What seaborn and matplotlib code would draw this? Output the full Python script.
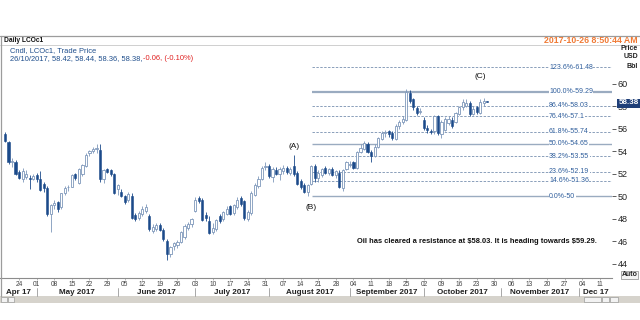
import matplotlib
matplotlib.use("Agg")
import matplotlib.pyplot as plt
import matplotlib.transforms as mtransforms
from matplotlib.patches import Rectangle
from matplotlib.lines import Line2D
import numpy as np
import pandas as pd
import seaborn as sns

# ---------------- data ----------------
start_date = "2017-04-18"
end_date = "2017-10-26"
axis_end_date = "2017-12-29"

opens = [
    55.5, 54.8, 53.0, 53.05, 52.15, 51.5, 51.7, 51.65, 51.55, 51.9,
    51.5, 51.05, 50.7, 48.4, 49.2, 49.5, 49.0, 50.3, 50.8, 50.85,
    51.95, 51.2, 51.95, 52.7, 53.8, 54.0, 54.2, 54.15, 51.5, 52.4,
    52.3, 51.95, 50.6, 50.35, 50.0, 49.7, 50.05, 48.3, 48.1, 48.4,
    48.7, 48.25, 46.95, 47.1, 47.4, 47.0, 46.0, 44.9, 45.6, 45.65,
    45.9, 46.35, 47.2, 47.5, 48.7, 49.8, 49.7, 48.3, 47.8, 46.85,
    47.1, 48.2, 47.95, 48.4, 49.1, 48.5, 49.0, 49.8, 49.6, 48.0,
    48.5, 50.1, 50.9, 51.5, 52.6, 52.7, 51.7, 52.3, 52.0, 52.2,
    52.5, 52.1, 52.7, 52.1, 51.35, 51.0, 50.4, 51.1, 52.7, 51.6,
    51.9, 52.5, 52.1, 52.4, 51.9, 52.1, 50.7, 52.4, 52.8, 53.0,
    52.5, 53.9, 54.2, 54.65, 53.9, 53.6, 54.4, 55.1, 55.6, 55.8,
    55.6, 55.1, 56.2, 56.6, 56.8, 59.2, 58.6, 57.8, 57.5, 56.8,
    56.1, 55.8, 55.8, 57.1, 55.5, 55.9, 56.5, 56.8, 56.6, 57.3,
    57.9, 58.0, 58.3, 57.3, 57.9, 57.4, 58.3, 58.42]
highs = [
    55.7, 54.95, 53.4, 53.2, 52.3, 52.5, 52.3, 51.9, 52.0, 52.1,
    52.2, 51.3, 50.9, 49.3, 49.7, 49.6, 50.3, 50.9, 51.0, 52.0,
    52.1, 52.5, 52.9, 53.8, 54.1, 54.4, 54.6, 54.65, 52.4, 52.5,
    52.4, 52.1, 51.1, 50.6, 50.1, 50.4, 50.3, 48.5, 48.7, 49.1,
    49.3, 48.4, 47.5, 47.6, 47.6, 47.2, 46.2, 45.6, 45.9, 46.1,
    46.9, 47.5, 47.7, 48.1, 49.9, 50.0, 49.8, 48.6, 48.2, 47.6,
    48.0, 48.4, 48.7, 49.1, 49.2, 49.3, 49.9, 50.0, 49.7, 48.8,
    50.5, 51.2, 51.8, 52.7, 53.0, 52.9, 52.6, 52.6, 52.6, 52.8,
    52.7, 52.6, 53.65, 52.2, 51.5, 51.2, 51.1, 52.8, 52.9, 52.3,
    52.5, 52.7, 52.5, 52.6, 52.3, 52.3, 52.4, 53.1, 53.1, 53.1,
    54.0, 54.6, 54.9, 54.8, 54.1, 54.6, 55.3, 55.8, 55.9, 55.9,
    55.8, 56.4, 56.8, 57.1, 59.5, 59.4, 58.7, 58.0, 57.8, 57.0,
    56.3, 56.0, 57.2, 57.2, 56.8, 57.0, 57.1, 57.0, 57.5, 58.0,
    58.6, 58.6, 58.5, 58.0, 58.0, 58.6, 58.7, 58.44]
lows = [
    54.8, 52.9, 52.6, 51.9, 51.5, 51.3, 51.5, 50.6, 51.4, 51.3,
    50.5, 50.4, 48.2, 46.8, 48.9, 48.6, 48.9, 50.1, 50.5, 50.8,
    51.4, 51.1, 51.8, 52.6, 53.6, 53.8, 53.8, 51.3, 51.2, 52.1,
    51.8, 50.2, 50.1, 49.9, 49.3, 49.5, 48.0, 47.8, 47.9, 48.2,
    48.5, 46.9, 46.7, 46.9, 46.9, 46.0, 44.35, 44.6, 45.2, 45.4,
    45.8, 46.2, 47.0, 47.3, 48.6, 49.4, 47.8, 47.8, 46.6, 46.6,
    46.9, 47.6, 47.8, 48.3, 48.3, 48.3, 48.9, 49.1, 47.9, 47.8,
    48.3, 50.0, 50.7, 51.4, 52.3, 51.6, 51.3, 51.9, 51.4, 52.0,
    52.0, 51.9, 51.8, 51.0, 50.6, 50.3, 50.0, 51.0, 51.3, 51.3,
    51.7, 52.0, 51.9, 51.8, 51.6, 50.7, 50.5, 52.3, 52.6, 52.4,
    52.4, 53.8, 54.1, 53.8, 53.0, 53.5, 54.3, 55.0, 55.3, 55.3,
    55.0, 55.0, 56.0, 56.4, 56.7, 58.3, 57.7, 57.2, 57.3, 55.9,
    55.6, 55.5, 55.5, 55.4, 55.2, 55.8, 56.3, 56.1, 56.5, 57.2,
    57.7, 57.9, 57.1, 57.2, 57.3, 57.3, 58.0, 58.36]
closes = [
    54.9, 53.0, 53.1, 52.0, 51.6, 52.25, 52.0, 51.55, 51.8, 51.5,
    50.55, 50.7, 48.4, 49.2, 49.4, 48.85, 50.25, 50.7, 50.85, 51.85,
    51.65, 52.4, 52.8, 53.7, 54.0, 54.2, 54.2, 51.5, 52.3, 52.15,
    51.95, 50.3, 51.0, 50.0, 49.5, 50.2, 48.1, 47.95, 48.55, 48.9,
    49.0, 47.1, 47.25, 47.4, 47.0, 46.2, 44.85, 45.45, 45.85, 45.95,
    46.8, 47.35, 47.5, 47.95, 49.7, 49.6, 47.9, 48.1, 46.75, 47.2,
    47.9, 47.8, 48.6, 48.9, 48.4, 49.2, 49.7, 49.3, 48.1, 48.6,
    50.3, 51.0, 51.5, 52.5, 52.7, 51.8, 52.4, 52.0, 52.4, 52.5,
    52.15, 52.4, 51.95, 51.1, 50.8, 50.4, 51.0, 52.7, 51.6, 52.1,
    52.4, 52.1, 52.4, 51.9, 52.2, 50.8, 52.3, 53.0, 52.9, 52.5,
    53.9, 54.3, 54.7, 53.95, 53.6, 54.4, 55.2, 55.6, 55.75, 55.5,
    55.15, 56.2, 56.6, 56.9, 59.25, 58.45, 57.9, 57.4, 57.55, 56.1,
    55.85, 55.75, 57.1, 55.6, 56.6, 56.9, 56.9, 56.2, 57.4, 57.9,
    58.4, 58.3, 57.3, 57.75, 57.45, 58.4, 58.45, 58.38]

fib_pcts = ["123.6%", "100.0%", "86.4%", "76.4%", "61.8%", "50.0%",
            "38.2%", "23.6%", "14.6%", "0.0%"]
fib_values = [61.48, 59.29, 58.03, 57.1, 55.74, 54.65, 53.55, 52.19, 51.36, 50]
fib_value_labels = ["61.48", "59.29", "58.03", "57.1", "55.74", "54.65",
                    "53.55", "52.19", "51.36", "50"]
fib_start_date = "2017-08-17"
price_ticks = [44, 46, 48, 50, 52, 54, 56, 58, 60]
month_labels = ["Apr 17", "May 2017", "June 2017", "July 2017", "August 2017",
                "September 2017", "October 2017", "November 2017", "Dec 17"]
last_price = "58.38"
wave_labels = ["(A)", "(B)", "(C)"]
wave_dates = ["2017-08-10", "2017-08-17", "2017-10-24"]
wave_prices = [54.42, 48.99, 60.6]
note_text = "Oil has cleared a resistance at $58.03. It is heading towards $59.29."
note_date = "2017-09-05"
note_price = 45.93
title_text = "Daily LCOc1"
legend_line1 = "Cndl, LCOc1, Trade Price"
legend_line2 = "26/10/2017, 58.42, 58.44, 58.36, 58.38, "
legend_change = "-0.06, (-0.10%)"
timestamp = "2017-10-26 8:50:44 AM"

# ---------------- build ----------------
dates = pd.bdate_range(start_date, end_date)
all_dates = pd.bdate_range(start_date, axis_end_date)
assert len(dates) == len(opens) == len(highs) == len(lows) == len(closes)
pos_of = {d: i for i, d in enumerate(all_dates)}
df = pd.DataFrame({"date": dates, "open": opens, "high": highs,
                   "low": lows, "close": closes})
df["x"] = [pos_of[d] for d in df["date"]]
df["up"] = df["close"] >= df["open"]

sns.set_theme(style="white")
plt.rcParams["font.family"] = ["Liberation Sans", "DejaVu Sans"]

W, H = 640, 320
fig = plt.figure(figsize=(6.4, 3.2), dpi=100)
fig.patch.set_facecolor("white")


def px2i(px):
    return (px - 5) / 3.52


def py2p(py):
    return 50 + (196.2 - py) / 11.25


ax = fig.add_axes([0, 1 - 278 / H, 612 / W, (278 - 45) / H])
ax.set_facecolor("white")
ax.set_xlim(px2i(0), px2i(612))
ax.set_ylim(py2p(278), py2p(45))

DARK = "#1b4a8a"
HOLLOW_EDGE = "#7d97ba"
FIB_COL = "#8a9fba"

# fib lines
fib_x0 = pos_of[pd.Timestamp(fib_start_date)] + 0.3
solid = {"100.0%", "50.0%", "0.0%"}
for pct, val, lab in zip(fib_pcts, fib_values, fib_value_labels):
    if pct in solid:
        ax.hlines(val, fib_x0, px2i(612), color="#9aabc0",
                  lw=1.0 if pct != "100.0%" else 1.6, zorder=1)
    else:
        ax.hlines(val, fib_x0, px2i(612), color=FIB_COL, lw=0.7,
                  linestyles=(0, (2.5, 1.5)), zorder=1)
    ax.text(px2i(549), val, f"{pct}-{lab}", fontsize=5, color="#2f5e9c",
            ha="left", va="center", zorder=3,
            bbox=dict(facecolor="white", edgecolor="none", pad=0.3))

# candles
up = df[df["up"]]
dn = df[~df["up"]]
ax.vlines(up["x"], up["low"], up["high"], color=HOLLOW_EDGE, lw=0.6, zorder=2)
ax.vlines(dn["x"], dn["low"], dn["high"], color=DARK, lw=0.6, zorder=2)
bw = 0.62
ax.bar(up["x"], np.maximum(up["close"] - up["open"], 0.06), bottom=up["open"],
       width=bw, facecolor="white", edgecolor=HOLLOW_EDGE, linewidth=0.6, zorder=3)
ax.bar(dn["x"], np.maximum(dn["open"] - dn["close"], 0.06), bottom=dn["close"],
       width=bw, facecolor=DARK, edgecolor=DARK, linewidth=0.4, zorder=3)

# wave labels and note
for lab, d, p in zip(wave_labels, wave_dates, wave_prices):
    ax.text(pos_of[pd.Timestamp(d)], p, lab, fontsize=6, color="#111111",
            ha="center", va="center", zorder=4)
ax.text(pos_of[pd.Timestamp(note_date)], note_price, note_text, fontsize=5.4,
        fontweight="bold", color="#111111", ha="left", va="center", zorder=4,
        parse_math=False)

# axes styling
for s in ["top", "left", "right"]:
    ax.spines[s].set_visible(False)
ax.spines["bottom"].set_color("#8c8c8c")
ax.spines["bottom"].set_linewidth(0.8)

ax.yaxis.tick_right()
ax.set_yticks(price_ticks)
ax.set_yticklabels([str(t) for t in price_ticks])
ax.tick_params(axis="y", which="both", right=True, length=3, width=0.6,
               color="#444444", labelsize=6.5, labelcolor="#222222", pad=1)

mondays = [d for d in all_dates if d.weekday() == 0 and pos_of[d] <= px2i(612)]
ax.set_xticks([pos_of[d] for d in mondays])
ax.set_xticklabels([d.strftime("%d") for d in mondays])
ax.tick_params(axis="x", which="both", bottom=True, length=1.5, width=0.5,
               color="#999999", labelsize=4.8, labelcolor="#444444", pad=0.8)
ax.grid(False)

# month labels / separators
trans = mtransforms.blended_transform_factory(ax.transData, fig.transFigure)
month_starts = []
seen = set()
for d in all_dates:
    key = (d.year, d.month)
    if key not in seen:
        seen.add(key)
        month_starts.append(pos_of[d])
bounds = [px2i(0)] + month_starts[1:] + [px2i(612)]
for k, lab in enumerate(month_labels):
    left, right = bounds[k], bounds[k + 1]
    fig.text((left + right) / 2, 1 - 292 / H, lab, transform=trans,
             fontsize=5.8, fontweight="bold", color="#222222", ha="center", va="center")
for ms in month_starts[1:]:
    fig.add_artist(Line2D([ms, ms], [1 - 287.5 / H, 1 - 296 / H], transform=trans,
                          color="#9a9a9a", lw=0.6))


# ---------------- figure chrome ----------------
def fx(x):
    return x / W


def fy(y):
    return 1 - y / H


fig.add_artist(Line2D([0, 1], [fy(35.5)] * 2, color="#9c9c9c", lw=0.9))
fig.add_artist(Line2D([0, 1], [fy(45)] * 2, color="#c8c8c8", lw=0.6))
fig.add_artist(Line2D([fx(0.5)] * 2, [fy(35.5), fy(296)], color="#9c9c9c", lw=0.9))

fig.text(fx(4), fy(40.5), title_text, fontsize=4.8, fontweight="bold", color="#111111",
         ha="left", va="center")
fig.text(fx(638), fy(40.5), timestamp, fontsize=6.3, fontweight="bold", color="#f07a35",
         ha="right", va="center")
fig.text(fx(10), fy(51), legend_line1, fontsize=5.4, color="#1f4e8c", ha="left", va="center")
fig.text(fx(10), fy(58.5), legend_line2, fontsize=5.4, color="#1f4e8c",
         ha="left", va="center")
fig.text(fx(143), fy(58.5), legend_change, fontsize=5.4, color="#e02020",
         ha="left", va="center")

for i, s in enumerate(["Price", "USD", "Bbl"]):
    fig.text(fx(638), fy(48 + 9 * i), s, fontsize=5, fontweight="bold",
             color="#222222", ha="right", va="center")

# last price box
fig.patches.append(Rectangle((fx(617), fy(107.5)), fx(640) - fx(617), 8.5 / H,
                             transform=fig.transFigure, facecolor="#1f3f78",
                             edgecolor="none", zorder=5))
fig.text(fx(628.5), fy(103), last_price, fontsize=5.8, fontweight="bold",
         color="white", ha="center", va="center", zorder=6)

# Auto box
fig.patches.append(Rectangle((fx(621), fy(278.5)), fx(17), 8 / H,
                             transform=fig.transFigure, facecolor="#f4f4f4",
                             edgecolor="#9a9a9a", lw=0.6, zorder=5))
fig.text(fx(629.5), fy(274.3), "Auto", fontsize=5, fontweight="bold",
         color="#222222", ha="center", va="center", zorder=6)

# scrollbar
fig.patches.append(Rectangle((0, fy(302.5)), 1, 6.5 / H, transform=fig.transFigure,
                             facecolor="#d6d3cc", edgecolor="none", zorder=1))
for x0, w in [(1, 6), (8, 6), (584, 17), (602, 7), (610, 8)]:
    fig.patches.append(Rectangle((fx(x0), fy(302)), fx(w), 5.5 / H,
                                 transform=fig.transFigure, facecolor="#f2f2f2",
                                 edgecolor="#8a8a8a", lw=0.4, zorder=2))

fig.savefig("out.png", dpi=100, facecolor="white")
